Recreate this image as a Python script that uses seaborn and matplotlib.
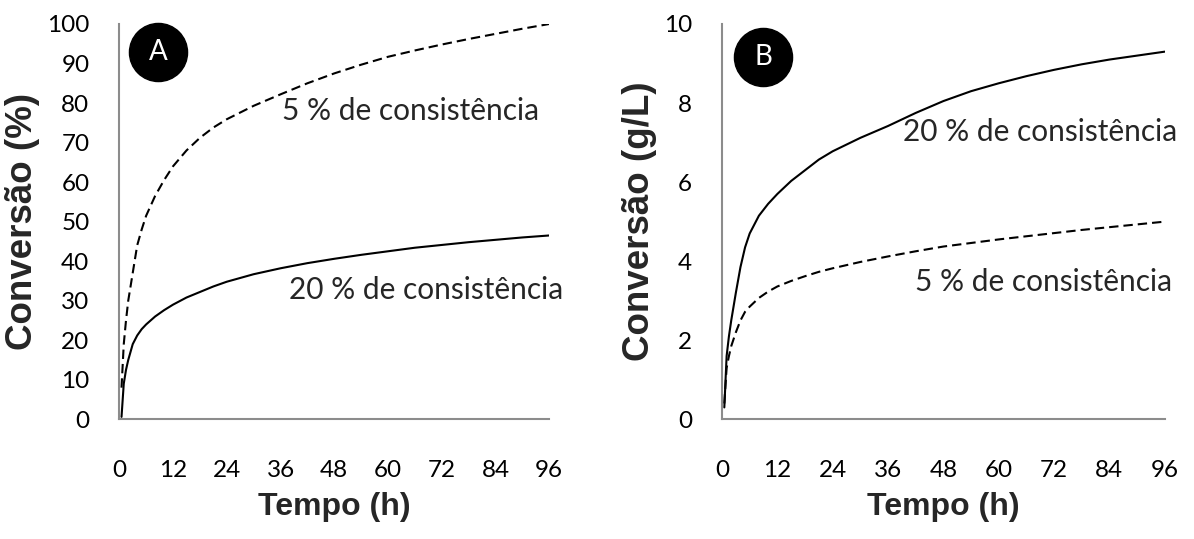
import numpy as np
import pandas as pd
import matplotlib
matplotlib.use("Agg")
import matplotlib.pyplot as plt
import seaborn as sns

# Hydrolysis time (h)
tempo = [0.5, 1, 1.5, 2, 3, 4, 5, 6, 8, 10, 12, 15, 18, 21, 24,
         30, 36, 42, 48, 54, 60, 66, 72, 78, 84, 90, 96]

# Panel A: conversion (%)
conv_pct_5 = [8, 19, 25, 30, 37, 44, 48, 51.5, 56.5, 60.5, 64, 68, 71.2, 73.8, 75.9,
              79.3, 82.2, 85, 87.5, 89.7, 91.7, 93.3, 94.8, 96.2, 97.5, 98.8, 100]
conv_pct_20 = [0.6, 9, 12.5, 15, 19, 21.2, 22.8, 24, 26, 27.6, 29, 30.8, 32.2, 33.6, 34.8,
               36.7, 38.2, 39.5, 40.6, 41.6, 42.5, 43.4, 44.1, 44.8, 45.4, 46, 46.5]

# Panel B: conversion (g/L)
conv_gl_5 = [0.4, 1.3, 1.6, 1.85, 2.2, 2.5, 2.72, 2.85, 3.07, 3.23, 3.36, 3.5, 3.62, 3.73, 3.82,
             3.98, 4.12, 4.25, 4.37, 4.46, 4.55, 4.63, 4.71, 4.79, 4.86, 4.93, 5.0]
conv_gl_20 = [0.3, 1.6, 2.1, 2.5, 3.2, 3.85, 4.35, 4.7, 5.15, 5.45, 5.7, 6.03, 6.3, 6.57, 6.78,
              7.12, 7.42, 7.75, 8.05, 8.3, 8.5, 8.68, 8.84, 8.98, 9.1, 9.2, 9.3]

x_ticks = [0, 12, 24, 36, 48, 60, 72, 84, 96]
label_5 = "5 % de consistência"
label_20 = "20 % de consistência"

sns.set_style("white")
plt.rcParams["font.family"] = ["Lato", "DejaVu Sans"]

TICK_FS = 17.5
NOTE_FS = 21.5
BADGE_FS = 20
XLAB_FS = 23
YLAB_FS = 26.5
GREY = "#8c8c8c"


def long_frame(y5, y20):
    return pd.DataFrame({
        "tempo": tempo * 2,
        "valor": list(y5) + list(y20),
        "consistencia": [label_5] * len(tempo) + [label_20] * len(tempo),
    })


def style_axes(ax, ylim, yticks, ylabel):
    ax.set_xlim(0, 96)
    ax.set_ylim(*ylim)
    ax.set_xticks(x_ticks)
    ax.set_yticks(yticks)
    for side in ("top", "right"):
        ax.spines[side].set_visible(False)
    for side in ("left", "bottom"):
        ax.spines[side].set_color(GREY)
        ax.spines[side].set_linewidth(1.5)
    ax.tick_params(axis="both", direction="out", length=6.5, width=1.5,
                   color=GREY, labelsize=TICK_FS, labelcolor="black")
    ax.tick_params(axis="x", pad=23)
    ax.tick_params(axis="y", pad=15)
    ax.set_xlabel("Tempo (h)", fontsize=XLAB_FS, fontweight="bold",
                  family="Liberation Sans", labelpad=8)
    ax.set_ylabel(ylabel, fontsize=YLAB_FS, fontweight="bold",
                  family="Liberation Sans", labelpad=5)
    ax.grid(False)


def badge(ax, x, y, letter):
    ax.scatter([x], [y], s=1750, color="black", zorder=5, clip_on=False)
    ax.text(x, y, letter, color="white", fontsize=BADGE_FS, ha="center",
            va="center", zorder=6)


fig = plt.figure(figsize=(11.94, 5.39), dpi=100)
ax_a = fig.add_axes([0.0999, 0.2221, 0.3601, 0.7334])
ax_b = fig.add_axes([0.6047, 0.2221, 0.3708, 0.7334])

dash_map = {label_5: (4.5, 2.4), label_20: ""}

for ax, df in ((ax_a, long_frame(conv_pct_5, conv_pct_20)),
               (ax_b, long_frame(conv_gl_5, conv_gl_20))):
    sns.lineplot(data=df, x="tempo", y="valor", style="consistencia",
                 dashes=dash_map, color="black", linewidth=1.5,
                 legend=False, ax=ax, sort=False)

style_axes(ax_a, (0, 100), range(0, 101, 10), "Conversão (%)")
style_axes(ax_b, (0, 10), range(0, 11, 2), "Conversão (g/L)")

ax_a.text(36.3, 78.1, label_5, fontsize=NOTE_FS, va="center", ha="left")
ax_a.text(37.8, 32.7, label_20, fontsize=NOTE_FS, va="center", ha="left")
ax_b.text(39.2, 7.28, label_20, fontsize=NOTE_FS, va="center", ha="left")
ax_b.text(41.9, 3.48, label_5, fontsize=NOTE_FS, va="center", ha="left")

badge(ax_a, 8.65, 92.9, "A")
badge(ax_b, 8.9, 9.17, "B")

fig.savefig("out.png", dpi=100, facecolor="white")
